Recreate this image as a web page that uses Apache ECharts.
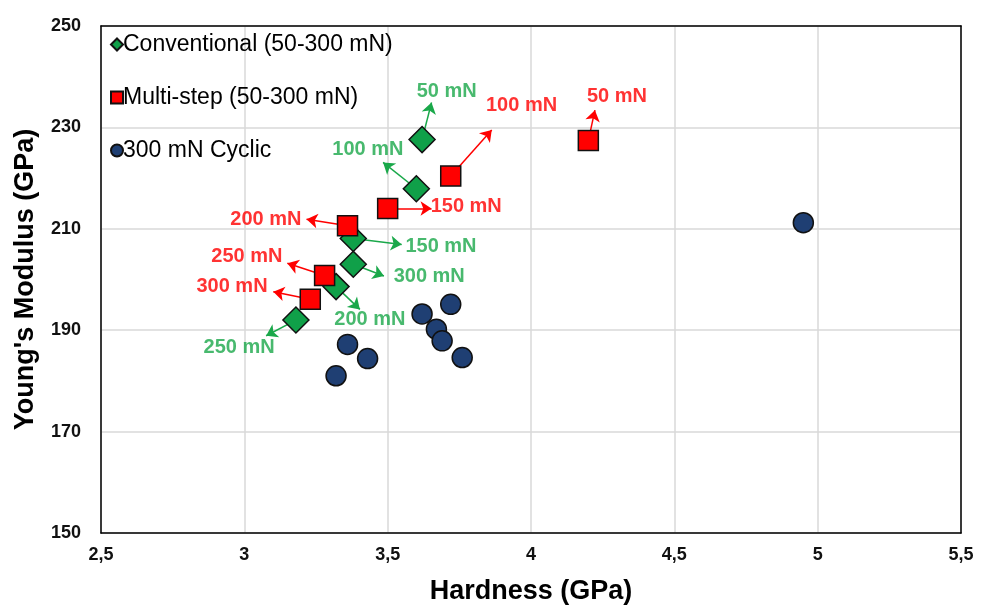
<!DOCTYPE html>
<html>
<head>
<meta charset="utf-8">
<script src="https://cdn.jsdelivr.net/npm/echarts@6/dist/echarts.min.js"></script>
<style>
  html, body { margin: 0; padding: 0; background: #fff; }
  #chart { width: 988px; height: 605px; }
</style>
</head>
<body>
<div id="chart"></div>
<script>
// Hardness vs. Young's modulus for three indentation protocols
const xTicks = [2.5, 3, 3.5, 4, 4.5, 5, 5.5];
const yTicks = [150, 170, 190, 210, 230, 250];

// Conventional indentation, one point per peak load
const convLoads    = ['50 mN', '100 mN', '150 mN', '200 mN', '250 mN', '300 mN'];
const convHardness = [3.62, 3.60, 3.38, 3.32, 3.18, 3.38];
const convModulus  = [227.6, 217.9, 208.1, 198.6, 192.0, 203.0];

// Multi-step indentation, one point per load step
const multiLoads    = ['50 mN', '100 mN', '150 mN', '200 mN', '250 mN', '300 mN'];
const multiHardness = [4.20, 3.72, 3.50, 3.36, 3.28, 3.23];
const multiModulus  = [227.4, 220.4, 214.0, 210.6, 200.8, 196.1];

// 300 mN cyclic indentation
const cyclicHardness = [3.72, 3.62, 3.67, 3.69, 3.76, 3.36, 3.43, 3.32, 4.95];
const cyclicModulus  = [195.1, 193.2, 190.2, 187.9, 184.6, 187.2, 184.4, 181.0, 211.2];

// Callout arrow tips (data units) for each load label
const convTipX  = [3.653, 3.484, 3.549, 3.403, 3.076, 3.487];
const convTipY  = [234.9, 223.1, 206.9, 194.1, 188.9, 200.7];
const multiTipX = [4.223, 3.863, 3.653, 3.217, 3.150, 3.101];
const multiTipY = [233.4, 229.5, 214.0, 211.9, 203.2, 197.6];

// Callout text anchors (data units)
const convTextX  = [3.706, 3.431, 3.686, 3.438, 2.982, 3.645];
const convTextY  = [237.1, 225.7, 206.6, 192.2, 186.5, 200.6];
const multiTextX = [4.300, 3.967, 3.774, 3.075, 3.009, 2.957];
const multiTextY = [236.0, 234.3, 214.4, 211.9, 204.6, 198.6];

const GREEN_FILL = '#10a049';
const GREEN_TEXT = '#1aa84a';
const RED = '#ff0000';
const NAVY = '#1f3f73';
const FONT = 'Arial, "Liberation Sans", sans-serif';

const zip = (a, b) => a.map((v, i) => [v, b[i]]);

function arrows(hx, hy, tx, ty, color) {
  return {
    silent: true,
    z: 1,
    symbol: ['none', 'arrow'],
    symbolSize: 11,
    label: { show: false },
    lineStyle: { color: color, width: 1.5, type: 'solid' },
    emphasis: { disabled: true },
    data: hx.map((x, i) => [
      { coord: [x, hy[i]] },
      { coord: [tx[i], ty[i]] }
    ])
  };
}

function textSeries(name, xs, ys, labels, color) {
  return {
    name: name,
    type: 'scatter',
    silent: true,
    symbolSize: 0,
    z: 4,
    data: xs.map((x, i) => ({ value: [x, ys[i]], name: labels[i] })),
    label: {
      show: true,
      position: 'inside',
      formatter: p => p.name,
      color: color,
      fontFamily: FONT,
      fontWeight: 'bold',
      fontSize: 20
    }
  };
}

// Frame axes: draw the black box around the plotting area
const frameAxis = {
  type: 'value',
  axisLine: { show: true, lineStyle: { color: '#000', width: 1.5 } },
  axisTick: { show: false },
  axisLabel: { show: false },
  splitLine: { show: false }
};

const chart = echarts.init(document.getElementById('chart'), null, { renderer: 'canvas' });

chart.setOption({
  animation: false,
  backgroundColor: '#fff',
  grid: { left: 101, right: 27, top: 26, bottom: 72, outerBoundsMode: 'none', containLabel: false },
  legend: {
    data: ['Conventional (50-300 mN)', 'Multi-step (50-300 mN)', '300 mN Cyclic'],
    orient: 'vertical',
    left: 105, top: 28,
    itemGap: 30,
    itemWidth: 12, itemHeight: 12,
    textStyle: { fontFamily: FONT, fontSize: 23, color: '#000', padding: [0, 0, 0, -5] }
  },
  xAxis: [
    {
      type: 'value',
      min: xTicks[0], max: xTicks[xTicks.length - 1], interval: 0.5,
      name: 'Hardness (GPa)',
      nameLocation: 'middle', nameGap: 45,
      nameTextStyle: { fontFamily: FONT, fontWeight: 'bold', fontSize: 27, color: '#000' },
      axisLine: { show: true, onZero: false, lineStyle: { color: '#000', width: 1.5 } },
      axisTick: { show: false },
      axisLabel: {
        margin: 13, fontFamily: FONT, fontWeight: 'bold', fontSize: 18, color: '#111',
        formatter: v => String(v).replace('.', ',')
      },
      splitLine: { show: true, lineStyle: { color: '#d9d9d9', width: 1.5 } }
    },
    Object.assign({ position: 'top', min: xTicks[0], max: xTicks[xTicks.length - 1], z: 5 }, frameAxis)
  ],
  yAxis: [
    {
      type: 'value',
      min: yTicks[0], max: yTicks[yTicks.length - 1], interval: 20,
      name: "Young's Modulus (GPa)",
      nameLocation: 'middle', nameGap: 62,
      nameTextStyle: { fontFamily: FONT, fontWeight: 'bold', fontSize: 27, color: '#000' },
      axisLine: { show: true, onZero: false, lineStyle: { color: '#000', width: 1.5 } },
      axisTick: { show: false },
      axisLabel: { margin: 20, fontFamily: FONT, fontWeight: 'bold', fontSize: 18, color: '#111' },
      splitLine: { show: true, lineStyle: { color: '#d9d9d9', width: 1.5 } }
    },
    Object.assign({ position: 'right', min: yTicks[0], max: yTicks[yTicks.length - 1], z: 5 }, frameAxis)
  ],
  series: [
    {
      name: 'Conventional (50-300 mN)',
      type: 'scatter',
      symbol: 'diamond',
      symbolSize: 26,
      z: 3,
      itemStyle: { color: GREEN_FILL, borderColor: '#111', borderWidth: 1.5, opacity: 1 },
      data: zip(convHardness, convModulus),
      markLine: arrows(convHardness, convModulus, convTipX, convTipY, GREEN_TEXT)
    },
    {
      name: 'Multi-step (50-300 mN)',
      type: 'scatter',
      symbol: 'rect',
      symbolSize: 20,
      z: 3,
      itemStyle: { color: RED, borderColor: '#111', borderWidth: 1.5, opacity: 1 },
      data: zip(multiHardness, multiModulus),
      markLine: arrows(multiHardness, multiModulus, multiTipX, multiTipY, RED)
    },
    {
      name: '300 mN Cyclic',
      type: 'scatter',
      symbol: 'circle',
      symbolSize: 20,
      z: 3,
      itemStyle: { color: NAVY, borderColor: '#111', borderWidth: 1.5, opacity: 1 },
      data: zip(cyclicHardness, cyclicModulus)
    },
    textSeries('conv-labels', convTextX, convTextY, convLoads, GREEN_TEXT),
    textSeries('multi-labels', multiTextX, multiTextY, multiLoads, RED)
  ]
});
</script>
</body>
</html>
